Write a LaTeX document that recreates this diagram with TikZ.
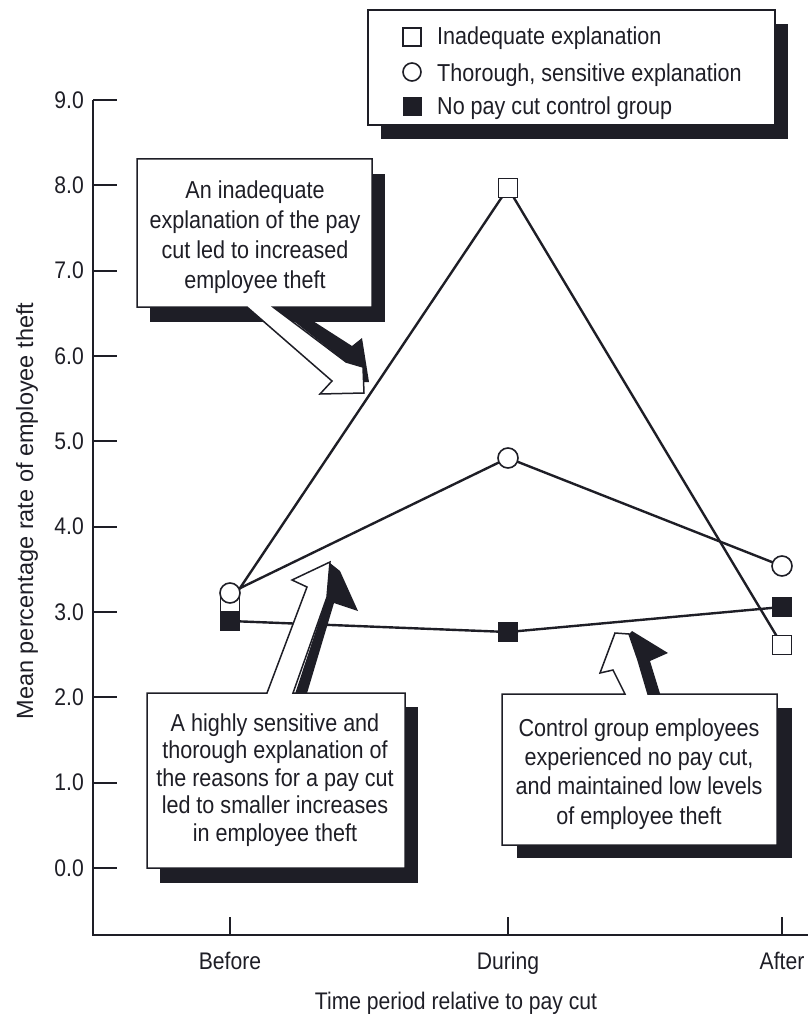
\documentclass[tikz,border=0pt]{standalone}
\usepackage{fontspec}
\setmainfont{Liberation Sans}[FakeStretch=0.88]
\newfontfamily\ytfont{Liberation Sans}
\definecolor{ink}{RGB}{30,30,38}
\pgfdeclarelayer{bg}
\pgfsetlayers{bg,main}
\tikzset{
  osq/.style={rectangle, draw=ink, fill=white, line width=1.6pt, minimum size=19pt, inner sep=0pt},
  ocirc/.style={circle, draw=ink, fill=white, line width=1.6pt, minimum size=20pt, inner sep=0pt},
  fsq/.style={rectangle, draw=ink, fill=ink, line width=1pt, minimum size=19pt, inner sep=0pt},
  dline/.style={draw=ink, line width=2.4pt, line join=round},
  axisline/.style={draw=ink, line width=2pt},
  callout/.style={draw=ink, fill=white, line width=1.5pt, line join=miter},
  shade/.style={fill=ink},
  txt/.style={font=\fontsize{24.5}{30}\selectfont, text=ink, inner sep=0pt, align=center},
  ticklab/.style={font=\fontsize{24}{28}\selectfont, text=ink, inner sep=0pt},
}
\begin{document}
\begin{tikzpicture}[x=1pt,y=-1pt]
\useasboundingbox (0,0) rectangle (808,1024);
% axes
\coordinate (ytop) at (93,100);
\coordinate (orig) at (93,935);
\coordinate (xend) at (808,935);
\draw[axisline] (ytop) -- (orig) -- (xend);
\foreach \k in {0,...,9} {
  \draw[axisline] (93,{868-85.33*\k}) -- (117,{868-85.33*\k});
  \node[ticklab, anchor=east] (yl\k) at (84,{868-85.33*\k}) {\k.0};
}
\foreach \x/\n in {230/Before,508/During,782/After} {
  \draw[axisline] (\x,935) -- (\x,917);
  \node[ticklab, anchor=base] (xl\n) at (\x,969) {\n};
}
\node[ticklab, anchor=base] (xtitle) at (456,1009) {Time period relative to pay cut};
\node[font=\ytfont\fontsize{23.5}{28}\selectfont, text=ink, inner sep=0pt, rotate=90] (ytitle) at (27,511) {Mean percentage rate of employee theft};

% data markers
\node[osq] (i1) at (230,603) {};
\node[osq] (i2) at (508,188) {};
\node[osq] (i3) at (782,645) {};
\node[ocirc] (t1) at (230,593) {};
\node[ocirc] (t2) at (508,458) {};
\node[ocirc] (t3) at (782,566) {};
\node[fsq] (c1) at (230,621) {};
\node[fsq] (c2) at (508,632) {};
\node[fsq] (c3) at (782,607) {};
\begin{pgfonlayer}{bg}
\draw[dline] (i1.center) -- (i2.center) -- (i3.center);
\draw[dline] (t1.center) -- (t2.center) -- (t3.center);
\draw[dline] (c1.center) -- (c2.center) -- (c3.center);
\end{pgfonlayer}

% legend
\fill[shade] (381,24) rectangle (788,139);
\filldraw[callout] (368,10) rectangle (775,125);
\node[osq, minimum size=18pt] (li) at (412,37) {};
\node[ocirc, minimum size=18pt] (lt) at (412,72) {};
\node[fsq, minimum size=18pt] (lc) at (412,107) {};
\node[txt, anchor=base west] (lit) at (437,45) {Inadequate explanation};
\node[txt, anchor=base west] (ltt) at (437,82) {Thorough, sensitive explanation};
\node[txt, anchor=base west] (lct) at (437,115) {No pay cut control group};

% callout 1
\fill[shade] (150,174) rectangle (385,322);
\fill[shade] (273,305) -- (346,362) -- (363,367) -- (364,382) -- (369,382) -- (362,338) -- (352,346) -- (313,321) -- (300,305) -- cycle;
\filldraw[callout] (137,159) -- (372,159) -- (372,307) -- (273,307) -- (346,362) -- (363,367) -- (364,393) -- (320,394) -- (332,381) -- (247,307) -- (137,307) -- cycle;
\node[txt] (note1) at (255,237) {An inadequate\\explanation of the pay\\cut led to increased\\employee theft};

% callout 2
\fill[shade] (160,707) rectangle (418,883);
\fill[shade] (293,700) -- (327,597) -- (330,563) -- (340,571) -- (358,611) -- (334,603) -- (305,700) -- cycle;
\filldraw[callout] (147,693) -- (267,693) -- (307,587) -- (292,580) -- (330,562) -- (327,597) -- (293,693) -- (405,693) -- (405,868) -- (147,868) -- cycle;
\node[txt, font=\fontsize{24.5}{27.5}\selectfont] (note2) at (275,780) {A highly sensitive and\\thorough explanation of\\the reasons for a pay cut\\led to smaller increases\\in employee theft};

% callout 3
\fill[shade] (517,708) rectangle (792,858);
\fill[shade] (648,700) -- (638,660) -- (629,634) -- (632,631) -- (668,653) -- (650,661) -- (662,700) -- cycle;
\filldraw[callout] (502,694) -- (625,694) -- (613,670) -- (600,673) -- (615,633) -- (629,634) -- (638,660) -- (648,694) -- (777,694) -- (777,845) -- (502,845) -- cycle;
\node[txt, font=\fontsize{24.5}{29.3}\selectfont] (note3) at (639,774) {Control group employees\\experienced no pay cut,\\and maintained low levels\\of employee theft};
\end{tikzpicture}
\end{document}
